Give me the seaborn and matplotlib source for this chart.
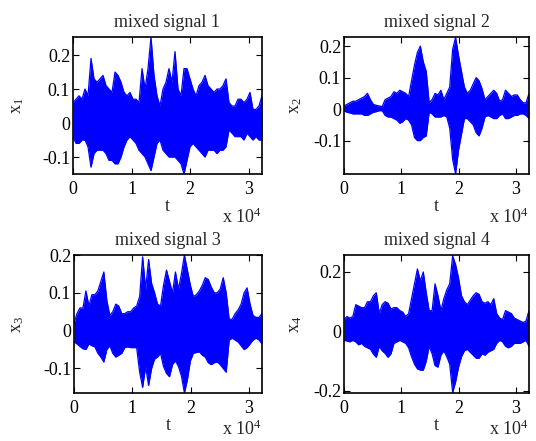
import numpy as np
import pandas as pd
import matplotlib
matplotlib.use("Agg")
import matplotlib.pyplot as plt
import seaborn as sns

# Sample index grid (every 512 samples) and envelope values
n_points = 64
step = 512

sig1_upper = [0.06, 0.07, 0.08, 0.07, 0.10, 0.08, 0.19, 0.13, 0.12, 0.13, 0.14, 0.11, 0.10, 0.09, 0.15, 0.14,
              0.12, 0.09, 0.08, 0.09, 0.07, 0.07, 0.06, 0.16, 0.10, 0.16, 0.253, 0.14, 0.08, 0.05, 0.10, 0.12,
              0.16, 0.12, 0.21, 0.10, 0.08, 0.16, 0.16, 0.13, 0.10, 0.08, 0.11, 0.12, 0.14, 0.11, 0.10, 0.09,
              0.10, 0.10, 0.11, 0.13, 0.06, 0.05, 0.05, 0.07, 0.07, 0.06, 0.07, 0.09, 0.04, 0.04, 0.05, 0.08]
sig1_lower = [-0.04, -0.06, -0.06, -0.05, -0.05, -0.07, -0.13, -0.09, -0.08, -0.08, -0.08, -0.09, -0.11, -0.11, -0.12, -0.12,
              -0.10, -0.07, -0.05, -0.04, -0.05, -0.06, -0.08, -0.09, -0.10, -0.12, -0.14, -0.10, -0.06, -0.05, -0.08, -0.09,
              -0.10, -0.10, -0.10, -0.11, -0.12, -0.15, -0.11, -0.07, -0.06, -0.07, -0.08, -0.09, -0.10, -0.08, -0.08, -0.08,
              -0.09, -0.08, -0.08, -0.07, -0.02, -0.03, -0.04, -0.04, -0.04, -0.05, -0.03, -0.04, -0.05, -0.04, -0.05, -0.05]

sig2_upper = [0.01, 0.015, 0.02, 0.025, 0.025, 0.03, 0.035, 0.04, 0.05, 0.03, 0.015, 0.012, 0.01, 0.008, 0.03, 0.035,
              0.04, 0.055, 0.05, 0.06, 0.055, 0.05, 0.04, 0.09, 0.14, 0.18, 0.20, 0.15, 0.12, 0.02, 0.03, 0.05,
              0.045, 0.06, 0.03, 0.05, 0.07, 0.19, 0.228, 0.17, 0.12, 0.07, 0.05, 0.06, 0.08, 0.10, 0.09, 0.065,
              0.03, 0.04, 0.05, 0.06, 0.05, 0.025, 0.03, 0.06, 0.05, 0.04, 0.045, 0.045, 0.03, 0.02, 0.02, 0.05]
sig2_lower = [-0.005, -0.01, -0.012, -0.015, -0.015, -0.015, -0.015, -0.02, -0.02, -0.015, -0.01, -0.008, -0.005, -0.005, -0.02, -0.025,
              -0.025, -0.03, -0.035, -0.045, -0.04, -0.03, -0.035, -0.05, -0.09, -0.10, -0.10, -0.09, -0.085, -0.01, -0.015, -0.025,
              -0.025, -0.025, -0.02, -0.025, -0.06, -0.16, -0.205, -0.13, -0.08, -0.03, -0.03, -0.04, -0.05, -0.075, -0.085, -0.06,
              -0.025, -0.02, -0.025, -0.03, -0.03, -0.02, -0.015, -0.03, -0.03, -0.025, -0.02, -0.02, -0.015, -0.015, -0.02, -0.03]

sig3_upper = [0.02, 0.045, 0.06, 0.06, 0.105, 0.065, 0.095, 0.095, 0.105, 0.13, 0.155, 0.08, 0.04, 0.05, 0.07, 0.065,
              0.045, 0.045, 0.05, 0.05, 0.06, 0.065, 0.09, 0.195, 0.11, 0.188, 0.125, 0.10, 0.07, 0.065, 0.12, 0.16,
              0.13, 0.10, 0.155, 0.11, 0.15, 0.20, 0.16, 0.12, 0.09, 0.095, 0.105, 0.12, 0.14, 0.135, 0.115, 0.10,
              0.10, 0.11, 0.14, 0.10, 0.03, 0.03, 0.045, 0.055, 0.07, 0.10, 0.113, 0.07, 0.04, 0.035, 0.035, 0.045]
sig3_lower = [-0.03, -0.035, -0.042, -0.048, -0.05, -0.035, -0.04, -0.043, -0.06, -0.07, -0.083, -0.05, -0.04, -0.06, -0.07, -0.065,
              -0.06, -0.045, -0.043, -0.045, -0.045, -0.045, -0.11, -0.15, -0.095, -0.145, -0.10, -0.075, -0.07, -0.06, -0.095, -0.113,
              -0.122, -0.09, -0.08, -0.095, -0.12, -0.165, -0.13, -0.08, -0.06, -0.058, -0.056, -0.065, -0.07, -0.085, -0.09, -0.085,
              -0.083, -0.09, -0.10, -0.11, -0.025, -0.02, -0.025, -0.03, -0.04, -0.05, -0.045, -0.035, -0.025, -0.02, -0.025, -0.035]

sig4_upper = [0.04, 0.05, 0.045, 0.05, 0.09, 0.085, 0.08, 0.08, 0.10, 0.10, 0.12, 0.13, 0.06, 0.09, 0.10, 0.095,
              0.075, 0.08, 0.08, 0.07, 0.065, 0.05, 0.06, 0.11, 0.16, 0.21, 0.17, 0.20, 0.13, 0.07, 0.07, 0.16,
              0.12, 0.07, 0.11, 0.14, 0.16, 0.254, 0.225, 0.18, 0.12, 0.10, 0.09, 0.105, 0.12, 0.13, 0.125, 0.10,
              0.095, 0.10, 0.09, 0.11, 0.06, 0.045, 0.04, 0.07, 0.065, 0.06, 0.045, 0.04, 0.035, 0.03, 0.035, 0.07]
sig4_lower = [-0.03, -0.032, -0.035, -0.03, -0.035, -0.045, -0.04, -0.05, -0.055, -0.06, -0.076, -0.087, -0.05, -0.065, -0.074, -0.087,
              -0.075, -0.04, -0.035, -0.03, -0.035, -0.04, -0.055, -0.085, -0.11, -0.126, -0.13, -0.13, -0.10, -0.05, -0.075, -0.115,
              -0.12, -0.08, -0.065, -0.085, -0.11, -0.205, -0.17, -0.12, -0.085, -0.065, -0.06, -0.07, -0.08, -0.09, -0.09, -0.075,
              -0.08, -0.07, -0.065, -0.06, -0.04, -0.03, -0.035, -0.05, -0.055, -0.05, -0.04, -0.04, -0.04, -0.035, -0.03, -0.05]

titles = ["mixed signal 1", "mixed signal 2", "mixed signal 3", "mixed signal 4"]
ylabels = [r"x$_{\mathrm{1}}$", r"x$_{\mathrm{2}}$", r"x$_{\mathrm{3}}$", r"x$_{\mathrm{4}}$"]
xticks = [0, 10000, 20000, 30000]
xtick_labels = ["0", "1", "2", "3"]
yticks = [[-0.1, 0, 0.1, 0.2], [-0.1, 0, 0.1, 0.2], [-0.1, 0, 0.1, 0.2], [-0.2, 0, 0.2]]
ylims = [(-0.15, 0.253), (-0.206, 0.229), (-0.165, 0.2), (-0.207, 0.257)]

sns.set_style("ticks")
plt.rcParams["font.family"] = ["Liberation Serif", "DejaVu Serif"]
plt.rcParams["mathtext.fontset"] = "custom"
plt.rcParams["mathtext.rm"] = "Liberation Serif"
plt.rcParams["mathtext.it"] = "Liberation Serif:italic"
plt.rcParams["font.size"] = 13

fig = plt.figure(figsize=(5.36, 4.41), dpi=100)
W, H = 536.0, 441.0
boxes = [(73, 262, 37, 174), (344, 529, 37, 174), (74, 262, 255, 393), (344, 529, 255, 393)]
ylabel_x = [-0.249, -0.216, -0.255, -0.216]
exp_y = [-0.358, -0.358, -0.305, -0.305]

uppers = [sig1_upper, sig2_upper, sig3_upper, sig4_upper]
lowers = [sig1_lower, sig2_lower, sig3_lower, sig4_lower]
t = np.arange(n_points) * step

for k in range(4):
    l, r, tp, b = boxes[k]
    ax = fig.add_axes([l / W, 1 - b / H, (r - l) / W, (b - tp) / H])
    df = pd.DataFrame({"t": t, "upper": uppers[k], "lower": lowers[k]})
    ax.fill_between(df["t"], df["lower"], df["upper"], color="#0000ff", linewidth=0)
    sns.lineplot(data=df, x="t", y="upper", ax=ax, color="#0000ff", linewidth=0.9)
    sns.lineplot(data=df, x="t", y="lower", ax=ax, color="#0000ff", linewidth=0.9)
    ax.set_xlim(0, t[-1])
    ax.set_ylim(*ylims[k])
    ax.set_xticks(xticks)
    ax.set_xticklabels(xtick_labels)
    ax.set_yticks(yticks[k])
    ax.set_yticklabels([("%g" % v) for v in yticks[k]])
    ax.tick_params(direction="in", top=True, right=True, length=4, width=0.8,
                   labelsize=13, colors="black")
    ax.tick_params(axis="y", pad=2)
    ax.tick_params(axis="x", pad=5)
    for s in ax.spines.values():
        s.set_visible(True)
        s.set_linewidth(1.2)
        s.set_color("black")
    ax.set_title(titles[k], fontsize=13, pad=7)
    ax.set_xlabel("t", fontsize=13, labelpad=0)
    ax.set_ylabel(ylabels[k], fontsize=13)
    ax.yaxis.set_label_coords(ylabel_x[k], 0.5)
    ax.text(1.0, exp_y[k], r"x 10$^{\mathrm{4}}$", transform=ax.transAxes,
            ha="right", va="baseline", fontsize=13)

fig.savefig("out.png", dpi=100)
